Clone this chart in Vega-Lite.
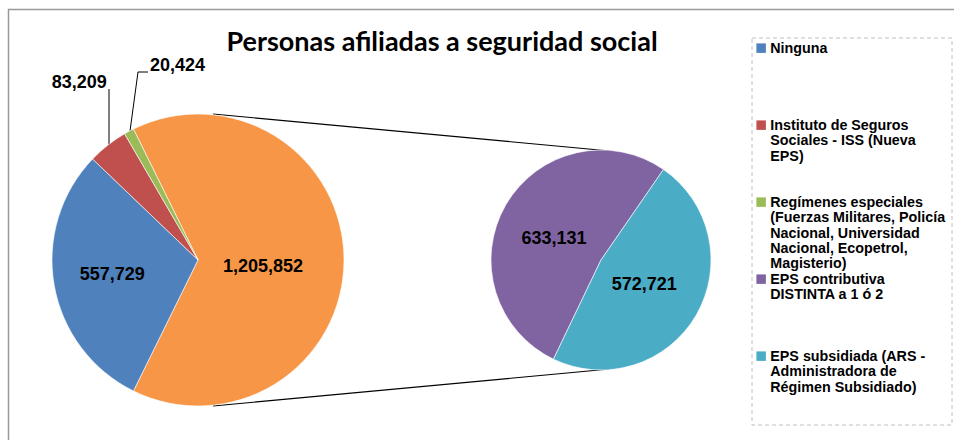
{
  "$schema": "https://vega.github.io/schema/vega-lite/v6.json",
  "width": 954,
  "height": 440,
  "padding": 0,
  "autosize": "none",
  "background": "white",
  "config": {
    "view": {"stroke": null},
    "font": "Liberation Sans",
    "style": {"guide-label": {"lineHeight": 15.3, "dy": -6}}
  },
  "title": {
    "text": "Personas afiliadas a seguridad social",
    "font": "Lato",
    "fontSize": 27,
    "fontWeight": "bold",
    "color": "black",
    "anchor": "middle",
    "baseline": "alphabetic",
    "offset": 0,
    "dx": -35,
    "dy": 78
  },
  "datasets": {
    "izq": [
      {"categoria": "Otros", "valor": 1205852},
      {"categoria": "Ninguna", "valor": 557729},
      {"categoria": "Instituto de Seguros Sociales - ISS (Nueva EPS)", "valor": 83209},
      {"categoria": "Regímenes especiales (Fuerzas Militares, Policía Nacional, Universidad Nacional, Ecopetrol, Magisterio)", "valor": 20424}
    ],
    "der": [
      {"categoria": "EPS contributiva DISTINTA a 1 ó 2", "valor": 633131},
      {"categoria": "EPS subsidiada (ARS - Administradora de Régimen Subsidiado)", "valor": 572721}
    ],
    "vacio": [{}]
  },
  "layer": [
    {
      "data": {"name": "vacio"},
      "mark": {"type": "rect", "fill": null, "stroke": "#999999", "strokeWidth": 1.5},
      "encoding": {
        "x": {"datum": 8.5, "type": "quantitative", "scale": {"domain": [0, 954], "range": [0, 954], "nice": false, "zero": false}, "axis": null},
        "x2": {"datum": 1000},
        "y": {"datum": 9.5, "type": "quantitative", "scale": {"domain": [0, 440], "range": [0, 440], "nice": false, "zero": false}, "axis": null},
        "y2": {"datum": 500}
      }
    },
    {
      "data": {"name": "vacio"},
      "mark": {"type": "rect", "fill": null, "stroke": "#c0c0c0", "strokeWidth": 1, "strokeDash": [4, 3]},
      "encoding": {
        "x": {"datum": 752, "type": "quantitative"},
        "x2": {"datum": 952},
        "y": {"datum": 38, "type": "quantitative"},
        "y2": {"datum": 425}
      }
    },
    {
      "data": {"name": "vacio"},
      "mark": {"type": "rule", "color": "black", "strokeWidth": 1.2},
      "encoding": {
        "x": {"datum": 213, "type": "quantitative"},
        "x2": {"datum": 610},
        "y": {"datum": 114, "type": "quantitative"},
        "y2": {"datum": 151}
      }
    },
    {
      "data": {"name": "vacio"},
      "mark": {"type": "rule", "color": "black", "strokeWidth": 1.2},
      "encoding": {
        "x": {"datum": 213, "type": "quantitative"},
        "x2": {"datum": 610},
        "y": {"datum": 406, "type": "quantitative"},
        "y2": {"datum": 369}
      }
    },
    {
      "data": {"name": "vacio"},
      "mark": {"type": "rule", "color": "black", "strokeWidth": 1},
      "encoding": {
        "x": {"datum": 109, "type": "quantitative"},
        "x2": {"datum": 109},
        "y": {"datum": 89, "type": "quantitative"},
        "y2": {"datum": 146}
      }
    },
    {
      "data": {"name": "vacio"},
      "mark": {"type": "rule", "color": "black", "strokeWidth": 1},
      "encoding": {
        "x": {"datum": 130, "type": "quantitative"},
        "x2": {"datum": 138},
        "y": {"datum": 131, "type": "quantitative"},
        "y2": {"datum": 72}
      }
    },
    {
      "data": {"name": "vacio"},
      "mark": {"type": "rule", "color": "black", "strokeWidth": 1},
      "encoding": {
        "x": {"datum": 138, "type": "quantitative"},
        "x2": {"datum": 148},
        "y": {"datum": 72, "type": "quantitative"},
        "y2": {"datum": 72}
      }
    },
    {
      "data": {"name": "izq"},
      "encoding": {
        "x": {"datum": 198, "type": "quantitative"},
        "y": {"datum": 260, "type": "quantitative"},
        "theta": {"field": "valor", "type": "quantitative", "stack": true, "scale": {"range": [-0.458, 5.8252]}},
        "order": {"field": "valor", "type": "quantitative", "sort": "descending"}
      },
      "layer": [
        {
          "mark": {"type": "arc", "outerRadius": 146, "stroke": "white", "strokeWidth": 0.6},
          "encoding": {
            "color": {
              "field": "categoria",
              "type": "nominal",
              "scale": {
                "domain": [
                  "Ninguna",
                  "Instituto de Seguros Sociales - ISS (Nueva EPS)",
                  "Regímenes especiales (Fuerzas Militares, Policía Nacional, Universidad Nacional, Ecopetrol, Magisterio)",
                  "EPS contributiva DISTINTA a 1 ó 2",
                  "EPS subsidiada (ARS - Administradora de Régimen Subsidiado)",
                  "Otros"
                ],
                "range": ["#4F81BD", "#C0504D", "#9BBB59", "#8064A2", "#4BACC6", "#F79646"]
              },
              "legend": {
                "orient": "none",
                "legendX": 754,
                "legendY": 41,
                "title": null,
                "padding": 0,
                "values": [
                  "Ninguna",
                  "Instituto de Seguros Sociales - ISS (Nueva EPS)",
                  "Regímenes especiales (Fuerzas Militares, Policía Nacional, Universidad Nacional, Ecopetrol, Magisterio)",
                  "EPS contributiva DISTINTA a 1 ó 2",
                  "EPS subsidiada (ARS - Administradora de Régimen Subsidiado)"
                ],
                "symbolType": "square",
                "symbolSize": 90,
                "symbolStrokeWidth": 0,
                "labelFont": "Liberation Sans",
                "labelFontSize": 14.3,
                "labelFontWeight": "bold",
                "labelColor": "black",
                "labelLimit": 400,
                "labelBaseline": "top",
                "labelOffset": 2,
                "gridAlign": "all",
                "rowPadding": 0,
                "labelExpr": "datum.label == 'Ninguna' ? 'Ninguna' : indexof(datum.label, 'Instituto') == 0 ? ['Instituto de Seguros', 'Sociales - ISS (Nueva', 'EPS)'] : indexof(datum.label, 'Regímenes') == 0 ? ['Regímenes especiales', '(Fuerzas Militares, Policía', 'Nacional, Universidad', 'Nacional, Ecopetrol,', 'Magisterio)'] : indexof(datum.label, 'EPS contributiva') == 0 ? ['EPS contributiva', 'DISTINTA a 1 ó 2'] : ['EPS subsidiada (ARS -', 'Administradora de', 'Régimen Subsidiado)']"
              }
            }
          }
        },
        {
          "mark": {"type": "text", "radius": 87, "font": "Liberation Sans", "fontSize": 18, "fontWeight": "bold", "color": "black"},
          "encoding": {
            "detail": {"field": "categoria"},
            "text": {"condition": {"test": "datum.categoria == 'Ninguna'", "field": "valor", "type": "quantitative", "format": ","}, "value": ""}
          }
        },
        {
          "mark": {"type": "text", "radius": 65, "dy": 7, "font": "Liberation Sans", "fontSize": 18, "fontWeight": "bold", "color": "black"},
          "encoding": {
            "detail": {"field": "categoria"},
            "text": {"condition": {"test": "datum.categoria == 'Otros'", "field": "valor", "type": "quantitative", "format": ","}, "value": ""}
          }
        },
        {
          "mark": {"type": "text", "radius": 213, "dx": 13, "dy": -10, "font": "Liberation Sans", "fontSize": 18, "fontWeight": "bold", "color": "black"},
          "encoding": {
            "detail": {"field": "categoria"},
            "text": {"condition": {"test": "indexof(datum.categoria, 'Instituto') == 0", "field": "valor", "type": "quantitative", "format": ","}, "value": ""}
          }
        },
        {
          "mark": {"type": "text", "radius": 200, "dx": 74, "dy": -18, "font": "Liberation Sans", "fontSize": 18, "fontWeight": "bold", "color": "black"},
          "encoding": {
            "detail": {"field": "categoria"},
            "text": {"condition": {"test": "indexof(datum.categoria, 'Regímenes') == 0", "field": "valor", "type": "quantitative", "format": ","}, "value": ""}
          }
        }
      ]
    },
    {
      "data": {"name": "der"},
      "encoding": {
        "x": {"datum": 601, "type": "quantitative"},
        "y": {"datum": 260, "type": "quantitative"},
        "theta": {"field": "valor", "type": "quantitative", "stack": true, "scale": {"range": [3.5884, 9.8716]}},
        "order": {"field": "valor", "type": "quantitative", "sort": "descending"}
      },
      "layer": [
        {
          "mark": {"type": "arc", "outerRadius": 110, "stroke": "white", "strokeWidth": 0.6},
          "encoding": {
            "color": {"field": "categoria", "type": "nominal"}
          }
        },
        {
          "mark": {"type": "text", "radius": 52, "dx": -2, "dy": 5, "font": "Liberation Sans", "fontSize": 18, "fontWeight": "bold", "color": "black"},
          "encoding": {
            "detail": {"field": "categoria"},
            "text": {"condition": {"test": "indexof(datum.categoria, 'EPS contributiva') == 0", "field": "valor", "type": "quantitative", "format": ","}, "value": ""}
          }
        },
        {
          "mark": {"type": "text", "radius": 50, "font": "Liberation Sans", "fontSize": 18, "fontWeight": "bold", "color": "black"},
          "encoding": {
            "detail": {"field": "categoria"},
            "text": {"condition": {"test": "indexof(datum.categoria, 'EPS subsidiada') == 0", "field": "valor", "type": "quantitative", "format": ","}, "value": ""}
          }
        }
      ],
      "resolve": {"scale": {"theta": "shared"}}
    }
  ],
  "resolve": {"scale": {"theta": "independent"}}
}
